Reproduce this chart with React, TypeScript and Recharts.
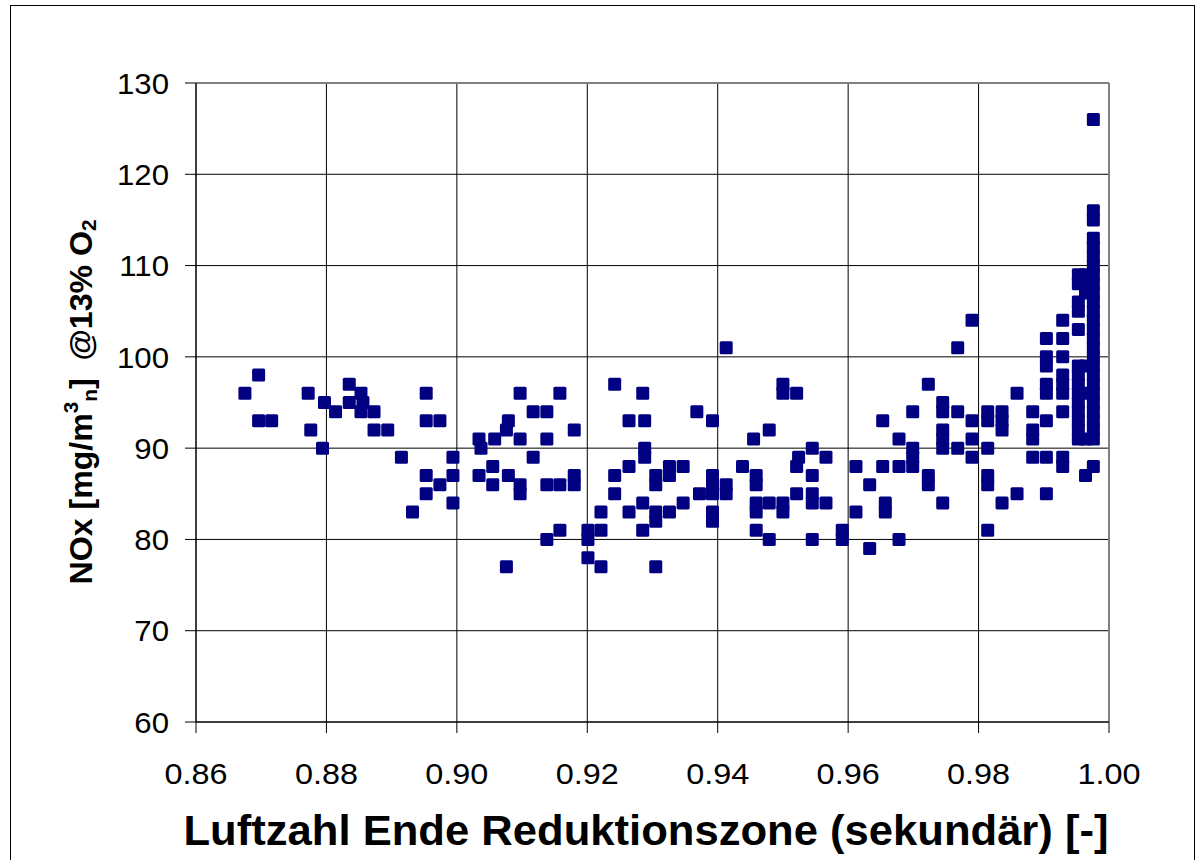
import { ScatterChart, Scatter, XAxis, YAxis, CartesianGrid, ReferenceLine } from "recharts";

const X_TICKS = [0.86, 0.88, 0.9, 0.92, 0.94, 0.96, 0.98, 1.0];
const Y_TICKS = [60, 70, 80, 90, 100, 110, 120, 130];

// [Luftzahl, NOx], grouped by x range
const pointsTo090: [number, number][] = [
    [0.8675, 96], [0.8696, 98], [0.8696, 93], [0.8716, 93], [0.8772, 96], [0.8776, 92],
    [0.8794, 90], [0.8797, 95], [0.8814, 94], [0.8835, 97], [0.8835, 95], [0.8853, 96],
    [0.8856, 95], [0.8853, 94], [0.8873, 94], [0.8873, 92], [0.8894, 92], [0.8915, 89],
    [0.8932, 83], [0.8953, 96], [0.8953, 93], [0.8974, 93], [0.8953, 87], [0.8974, 86],
    [0.8953, 85], [0.8994, 89], [0.8994, 87], [0.8994, 84],
];

const pointsTo094: [number, number][] = [
    [0.9034, 91], [0.9037, 90], [0.9058, 91], [0.9055, 88], [0.9034, 87], [0.9055, 86],
    [0.9079, 93], [0.9076, 92], [0.9079, 87], [0.9097, 96], [0.9097, 91], [0.9097, 86],
    [0.9097, 85], [0.9117, 94], [0.9138, 94], [0.9117, 89], [0.9138, 91], [0.9138, 86],
    [0.9158, 86], [0.918, 86], [0.918, 87], [0.9158, 96], [0.918, 92], [0.9076, 77],
    [0.9138, 80], [0.9158, 81], [0.9201, 81], [0.9201, 80], [0.9201, 78], [0.9221, 83],
    [0.9221, 81], [0.9221, 77], [0.9242, 97], [0.9242, 87], [0.9242, 85], [0.9264, 93],
    [0.9264, 88], [0.9264, 83], [0.9285, 96], [0.9288, 93], [0.9288, 90], [0.9288, 89],
    [0.9285, 84], [0.9285, 81], [0.9305, 87], [0.9305, 86], [0.9305, 83], [0.9305, 82],
    [0.9305, 77], [0.9326, 88], [0.9326, 87], [0.9326, 83], [0.9347, 88], [0.9347, 84],
    [0.9368, 94], [0.9392, 93], [0.9372, 85], [0.9392, 87], [0.9392, 86], [0.9392, 85],
    [0.9392, 83], [0.9392, 82],
];

const pointsTo098: [number, number][] = [
    [0.9413, 101], [0.9413, 86], [0.9413, 85], [0.9438, 88], [0.9455, 91], [0.9459, 87],
    [0.9459, 86], [0.9459, 84], [0.9459, 83], [0.9459, 81], [0.9479, 92], [0.9479, 84],
    [0.9479, 80], [0.95, 97], [0.95, 96], [0.9521, 96], [0.95, 84], [0.95, 83],
    [0.9524, 89], [0.9521, 88], [0.9521, 85], [0.9545, 90], [0.9545, 87], [0.9545, 85],
    [0.9545, 84], [0.9545, 80], [0.9566, 89], [0.9566, 84], [0.9591, 81], [0.9591, 80],
    [0.9612, 88], [0.9612, 83], [0.9633, 86], [0.9633, 79], [0.9653, 93], [0.9653, 88],
    [0.9657, 84], [0.9657, 83], [0.9678, 91], [0.9678, 88], [0.9678, 80], [0.9699, 94],
    [0.9699, 90], [0.9699, 89], [0.9699, 88], [0.9723, 97], [0.9723, 87], [0.9723, 86],
    [0.9745, 95], [0.9745, 94], [0.9745, 92], [0.9745, 91], [0.9745, 90], [0.9745, 84],
    [0.9768, 101], [0.9768, 94], [0.9768, 90], [0.979, 104], [0.979, 93], [0.979, 91],
    [0.979, 89],
];

const pointsTo100: [number, number][] = [
    [0.9814, 94], [0.9814, 93], [0.9814, 90], [0.9814, 87], [0.9814, 86], [0.9814, 81],
    [0.9836, 94], [0.9836, 93], [0.9836, 92], [0.9836, 84], [0.9859, 96], [0.9859, 85],
    [0.9883, 94], [0.9883, 92], [0.9883, 91], [0.9883, 89], [0.9904, 102], [0.9904, 100],
    [0.9904, 99], [0.9904, 97], [0.9904, 96], [0.9904, 93], [0.9904, 89], [0.9904, 85],
    [0.9929, 104], [0.9929, 102], [0.9929, 100], [0.9929, 98], [0.9929, 97], [0.9929, 96],
    [0.9929, 94], [0.9929, 89], [0.9929, 88],
    [0.9953, 109], [0.9953, 108], [0.9953, 106], [0.9953, 105], [0.9953, 103], [0.9953, 99],
    [0.9953, 98], [0.9953, 97], [0.9953, 96], [0.9953, 95], [0.9953, 94], [0.9953, 93],
    [0.9953, 92], [0.9953, 91],
    [0.9964, 109], [0.9964, 108], [0.9964, 107], [0.9964, 99], [0.9964, 96], [0.9964, 91],
    [0.9964, 87],
    [0.9976, 126], [0.9976, 116], [0.9976, 115], [0.9976, 113], [0.9976, 112], [0.9976, 111],
    [0.9976, 110], [0.9976, 109], [0.9976, 108], [0.9976, 107], [0.9976, 106], [0.9976, 105],
    [0.9976, 104], [0.9976, 103], [0.9976, 102], [0.9976, 101], [0.9976, 100], [0.9976, 99],
    [0.9976, 98], [0.9976, 97], [0.9976, 96], [0.9976, 95], [0.9976, 94], [0.9976, 93],
    [0.9976, 92], [0.9976, 91], [0.9976, 88],
];

const data = [...pointsTo090, ...pointsTo094, ...pointsTo098, ...pointsTo100].map(([x, y]) => ({ x, y }));

const FONT = "'Liberation Sans', Arial, sans-serif";

const Square = (props: any) => {
    const { cx, cy } = props;
    if (cx == null || cy == null) return null;
    return <rect x={cx - 6.5} y={cy - 6.5} width={13} height={13} rx={1.5} fill="#000080" />;
};

const XTick = ({ x, y, payload }: any) => (
    <g transform={`translate(${x},${y}) scale(1.08,1)`}>
        <text x={0} y={0} dy="0.71em" textAnchor="middle" fontSize={30} fill="#000">
            {Number(payload.value).toFixed(2)}
        </text>
    </g>
);

const YTick = ({ x, y, payload }: any) => (
    <g transform={`translate(${x},${y}) scale(1.04,1)`}>
        <text x={0} y={0} dy="0.355em" textAnchor="end" fontSize={30} fill="#000">
            {payload.value}
        </text>
    </g>
);

const XTitle = () => (
    <text x={646} y={845} textAnchor="middle" fontSize={43} fontWeight="bold" fill="#000"
        textLength={925} lengthAdjust="spacingAndGlyphs">
        Luftzahl Ende Reduktionszone (sekundär) [-]
    </text>
);

const YTitle = () => (
    <text x={92} y={402} transform="rotate(-90, 92, 402)" textAnchor="middle" fontSize={31}
        fontWeight="bold" fill="#000" textLength={365} lengthAdjust="spacingAndGlyphs">
        <tspan>NOx [mg/m</tspan>
        <tspan fontSize={20} dy={-14}>3</tspan>
        <tspan fontSize={20} dy={19}>n</tspan>
        <tspan dy={-5}>]{"\u00a0 "}@13% O</tspan>
        <tspan fontSize={20} dy={4}>2</tspan>
    </text>
);

export default function App() {
    return (
        <div style={{ position: "absolute", left: 0, top: 0, width: 1200, height: 860, overflow: "hidden", background: "#fff" }}>
            <div style={{ position: "absolute", left: 10, top: 5, width: 1183, height: 900, border: "1px solid #000" }} />
            <div style={{ position: "absolute", left: 0, top: 0 }}>
                <ScatterChart width={1200} height={860} margin={{ top: 83, right: 91, bottom: 0, left: 0 }}
                    style={{ fontFamily: FONT }}>
                    <CartesianGrid stroke="#000" strokeWidth={1} />
                    <XAxis type="number" dataKey="x" domain={[0.86, 1.0]} ticks={X_TICKS} interval={0}
                        height={138} tickSize={11} tickMargin={30} tick={<XTick />}
                        axisLine={{ stroke: "#000" }} tickLine={{ stroke: "#000" }} label={<XTitle />} />
                    <YAxis type="number" dataKey="y" domain={[60, 130]} ticks={Y_TICKS} interval={0}
                        width={196} tickSize={11} tickMargin={16} tick={<YTick />}
                        axisLine={{ stroke: "#000" }} tickLine={{ stroke: "#000" }} label={<YTitle />} />
                    <ReferenceLine y={130} stroke="#808080" strokeWidth={2} />
                    <ReferenceLine x={1.0} stroke="#808080" strokeWidth={2} />
                    <Scatter data={data} shape={<Square />} isAnimationActive={false} />
                </ScatterChart>
            </div>
        </div>
    );
}
